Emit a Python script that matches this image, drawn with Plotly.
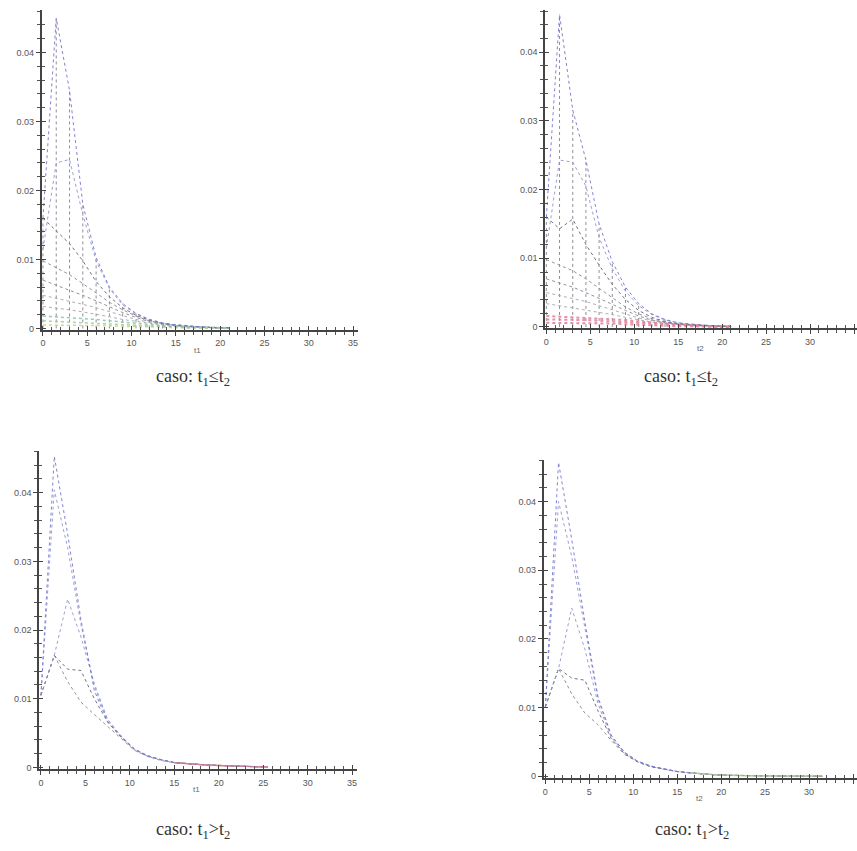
import plotly.graph_objects as go

# ---------------- data ----------------
t_top = [0, 1.5, 3, 4.5, 6, 7.5, 9, 10.5, 12, 13.5, 15, 16.5, 18, 19.5, 21]

tl_1 = [0.0160, 0.0450, 0.0345, 0.0180, 0.0103, 0.0060, 0.0036, 0.0022, 0.0013, 0.0008, 0.0005, 0.0003, 0.0002, 0.0001, 0.0001]
tl_2 = [0.0115, 0.0240, 0.0245, 0.0165, 0.0098, 0.0058, 0.0034, 0.0021, 0.0013, 0.0008, 0.0005, 0.0003, 0.0002, 0.0001, 0.0001]
tl_3 = [0.0160, 0.0142, 0.0123, 0.0098, 0.0068, 0.0046, 0.0030, 0.0019, 0.0012, 0.0007, 0.0005, 0.0003, 0.0002, 0.0001, 0.0001]
tl_4 = [0.0098, 0.0088, 0.0078, 0.0065, 0.0052, 0.0038, 0.0027, 0.0018, 0.0011, 0.0007, 0.0004, 0.0003, 0.0002, 0.0001, 0.0001]
tl_5 = [0.0070, 0.0063, 0.0056, 0.0048, 0.0040, 0.0031, 0.0023, 0.0016, 0.0010, 0.0006, 0.0004, 0.0003, 0.0002, 0.0001, 0.0001]
tl_6 = [0.0048, 0.0044, 0.0040, 0.0035, 0.0030, 0.0024, 0.0018, 0.0013, 0.0009, 0.0006, 0.0004, 0.0002, 0.0002, 0.0001, 0.0001]
tl_7 = [0.0032, 0.0030, 0.0027, 0.0024, 0.0021, 0.0017, 0.0013, 0.0010, 0.0007, 0.0005, 0.0003, 0.0002, 0.0001, 0.0001, 0.0000]
tl_8 = [0.0018, 0.0017, 0.0016, 0.0015, 0.0013, 0.0011, 0.0009, 0.0007, 0.0005, 0.0004, 0.0003, 0.0002, 0.0001, 0.0001, 0.0000]
tl_9 = [0.0011, 0.0010, 0.0010, 0.0009, 0.0008, 0.0007, 0.0006, 0.0005, 0.0004, 0.0003, 0.0002, 0.0001, 0.0001, 0.0000, 0.0000]
tl_10 = [0.0005, 0.0005, 0.0005, 0.0004, 0.0004, 0.0004, 0.0003, 0.0003, 0.0002, 0.0002, 0.0001, 0.0001, 0.0001, 0.0000, 0.0000]

tr_1 = [0.0160, 0.0455, 0.0316, 0.0243, 0.0150, 0.0095, 0.0058, 0.0034, 0.0019, 0.0011, 0.0006, 0.0004, 0.0002, 0.0001, 0.0001]
tr_2 = [0.0115, 0.0243, 0.0240, 0.0205, 0.0130, 0.0085, 0.0052, 0.0031, 0.0018, 0.0010, 0.0006, 0.0003, 0.0002, 0.0001, 0.0001]
tr_3 = [0.0160, 0.0143, 0.0157, 0.0120, 0.0090, 0.0062, 0.0040, 0.0024, 0.0014, 0.0008, 0.0005, 0.0003, 0.0002, 0.0001, 0.0001]
tr_4 = [0.0098, 0.0090, 0.0082, 0.0070, 0.0056, 0.0042, 0.0029, 0.0019, 0.0012, 0.0007, 0.0004, 0.0003, 0.0002, 0.0001, 0.0001]
tr_5 = [0.0070, 0.0064, 0.0058, 0.0050, 0.0042, 0.0033, 0.0024, 0.0016, 0.0010, 0.0006, 0.0004, 0.0003, 0.0002, 0.0001, 0.0001]
tr_6 = [0.0050, 0.0046, 0.0042, 0.0037, 0.0031, 0.0025, 0.0019, 0.0013, 0.0009, 0.0006, 0.0004, 0.0002, 0.0002, 0.0001, 0.0001]
tr_7 = [0.0034, 0.0031, 0.0028, 0.0025, 0.0022, 0.0018, 0.0014, 0.0010, 0.0007, 0.0005, 0.0003, 0.0002, 0.0001, 0.0001, 0.0000]
tr_8 = [0.0016, 0.0015, 0.0015, 0.0014, 0.0013, 0.0012, 0.0010, 0.0008, 0.0006, 0.0004, 0.0003, 0.0002, 0.0001, 0.0001, 0.0000]
tr_9 = [0.0011, 0.0011, 0.0010, 0.0010, 0.0009, 0.0008, 0.0007, 0.0006, 0.0004, 0.0003, 0.0002, 0.0001, 0.0001, 0.0000, 0.0000]
tr_10 = [0.0006, 0.0006, 0.0006, 0.0005, 0.0005, 0.0005, 0.0004, 0.0003, 0.0003, 0.0002, 0.0001, 0.0001, 0.0001, 0.0000, 0.0000]

t_bl = [0, 1.5, 3, 4.5, 6, 7.5, 9, 10.5, 12, 13.5, 15, 16.5, 18, 19.5, 21, 22.5, 24, 25.5]

bl_1 = [0.0105, 0.0453, 0.0340, 0.0215, 0.0112, 0.0066, 0.0045, 0.0027, 0.0017, 0.0011, 0.0007, 0.0005, 0.0004, 0.0003, 0.0002, 0.00015, 0.0001, 0.00006]
bl_2 = [0.0105, 0.0404, 0.0320, 0.0208, 0.0118, 0.0068, 0.0046, 0.0027, 0.0017, 0.0011, 0.0007, 0.0005, 0.0004, 0.0003, 0.0002, 0.00015, 0.0001, 0.00006]
bl_3 = [0.0105, 0.0163, 0.0245, 0.0190, 0.0122, 0.0070, 0.0046, 0.0026, 0.0017, 0.0011, 0.0007, 0.0005, 0.0004, 0.0003, 0.0002, 0.00015, 0.0001, 0.00006]
bl_4 = [0.0105, 0.0163, 0.0143, 0.0141, 0.0100, 0.0066, 0.0044, 0.0026, 0.0016, 0.0011, 0.0007, 0.0005, 0.0004, 0.0003, 0.0002, 0.00015, 0.0001, 0.00006]
bl_5 = [0.0105, 0.0163, 0.0125, 0.0095, 0.0077, 0.0060, 0.0042, 0.0025, 0.0016, 0.0010, 0.0007, 0.0005, 0.0004, 0.0003, 0.0002, 0.00015, 0.0001, 0.00006]

t_br = [0, 1.5, 3, 4.5, 6, 7.5, 9, 10.5, 12, 13.5, 15, 16.5, 18, 19.5, 21, 22.5, 24, 25.5, 27, 28.5, 30, 31.5]

br_1 = [0.0101, 0.0457, 0.0345, 0.0225, 0.0115, 0.0060, 0.0035, 0.0022, 0.0015, 0.0011, 0.0007, 0.0005, 0.0003, 0.0002, 0.00015, 0.0001, 0.00008, 0.00006, 0.00004, 0.00003, 0.00002, 0.00001]
br_2 = [0.0101, 0.0400, 0.0320, 0.0215, 0.0112, 0.0059, 0.0035, 0.0022, 0.0015, 0.0011, 0.0007, 0.0005, 0.0003, 0.0002, 0.00015, 0.0001, 0.00008, 0.00006, 0.00004, 0.00003, 0.00002, 0.00001]
br_3 = [0.0101, 0.0157, 0.0245, 0.0185, 0.0105, 0.0057, 0.0034, 0.0022, 0.0015, 0.0010, 0.0007, 0.0005, 0.0003, 0.0002, 0.00015, 0.0001, 0.00008, 0.00006, 0.00004, 0.00003, 0.00002, 0.00001]
br_4 = [0.0101, 0.0157, 0.0143, 0.0140, 0.0095, 0.0055, 0.0033, 0.0021, 0.0014, 0.0010, 0.0007, 0.0005, 0.0003, 0.0002, 0.00015, 0.0001, 0.00008, 0.00006, 0.00004, 0.00003, 0.00002, 0.00001]
br_5 = [0.0101, 0.0157, 0.0120, 0.0092, 0.0075, 0.0052, 0.0032, 0.0021, 0.0014, 0.0010, 0.0007, 0.0005, 0.0003, 0.0002, 0.00015, 0.0001, 0.00008, 0.00006, 0.00004, 0.00003, 0.00002, 0.00001]

y_ticks = [0, 0.01, 0.02, 0.03, 0.04]
y_labels = ["0", "0.01", "0.02", "0.03", "0.04"]
x_ticks = [0, 5, 10, 15, 20, 25, 30, 35]
x_labels = ["0", "5", "10", "15", "20", "25", "30", "35"]

captions = ["caso: t<sub>1</sub>\u2264t<sub>2</sub>", "caso: t<sub>1</sub>\u2264t<sub>2</sub>",
            "caso: t<sub>1</sub>&gt;t<sub>2</sub>", "caso: t<sub>1</sub>&gt;t<sub>2</sub>"]
axis_names = ["t1", "t2", "t1", "t2"]

# ---------------- figure ----------------
W, H = 857, 851
fig = go.Figure()

BLUE = "#7476d6"
BLUE2 = "#9496ce"
DARK = "#666672"
GRAY = "#88888f"
LGRAY = "#a6a6ae"
VERT = "#84848f"


def ax_names(k):
    return ("x" + ("" if k == 1 else str(k)), "y" + ("" if k == 1 else str(k)))


def add_line(x, y, color, k, width=1.0, dash="dot", opacity=0.9):
    xa, ya = ax_names(k)
    fig.add_trace(go.Scatter(x=x, y=y, mode="lines", showlegend=False, hoverinfo="skip",
                             line=dict(color=color, width=width, dash=dash), opacity=opacity,
                             xaxis=xa, yaxis=ya))


def add_verticals(t, top, color, k):
    xs, ys = [], []
    for xv, yv in zip(t, top):
        xs += [xv, xv, None]
        ys += [0, yv, None]
    add_line(xs, ys, color, k, width=1.0, dash="dot", opacity=0.9)


# panel 1 (top-left)
add_verticals(t_top, tl_1, VERT, 1)
for ys, c in [(tl_7, LGRAY), (tl_6, LGRAY), (tl_5, GRAY), (tl_4, GRAY), (tl_3, DARK), (tl_2, BLUE2), (tl_1, BLUE)]:
    add_line(t_top, ys, c, 1)
for ys, c in [(tl_10, "#d4d47c"), (tl_9, "#9cd29a"), (tl_8, "#8cc6aa")]:
    add_line(t_top, ys, c, 1, width=1.5)

# panel 2 (top-right)
add_verticals(t_top, tr_1, VERT, 2)
for ys, c in [(tr_7, LGRAY), (tr_6, LGRAY), (tr_5, GRAY), (tr_4, GRAY), (tr_3, DARK),
              (tr_2, BLUE2), (tr_1, BLUE)]:
    add_line(t_top, ys, c, 2)
for ys in [tr_8, tr_9, tr_10]:
    add_line(t_top, ys, "#e4849e", 2, width=2.0, dash="dot")

# panel 3 (bottom-left)
for ys, c in [(bl_5, GRAY), (bl_4, DARK), (bl_3, BLUE2), (bl_2, BLUE2), (bl_1, BLUE)]:
    add_line(t_bl, ys, c, 3)
    add_line(t_bl[10:], ys[10:], "#d8808c", 3, width=1.2, dash="solid", opacity=0.5)

# panel 4 (bottom-right)
for ys, c in [(br_5, GRAY), (br_4, DARK), (br_3, BLUE2), (br_2, BLUE2), (br_1, BLUE)]:
    add_line(t_br, ys, c, 4)
    add_line(t_br[11:], ys[11:], "#b6cf8a", 4, width=1.2, dash="solid", opacity=0.5)

# axes geometry (pixel anchors in the page)
panels = [
    dict(x0=42.0, xs=8.87, xr=[-0.15, 35.6], y0=330.0, ys=6930, yr=[-0.0002, 0.0461]),
    dict(x0=546.0, xs=8.80, xr=[-0.15, (857 - 546.0) / 8.80], y0=328.5, ys=6900, yr=[-0.0002, 0.0462]),
    dict(x0=40.0, xs=8.90, xr=[-0.2, 35.6], y0=771.0, ys=6900, yr=[-0.0003, 0.0461]),
    dict(x0=545.0, xs=8.80, xr=[-0.2, (857 - 545.0) / 8.80], y0=780.0, ys=6900, yr=[-0.0003, 0.0461]),
]

layout = dict(width=W, height=H, margin=dict(l=0, r=0, t=0, b=0),
              paper_bgcolor="white", plot_bgcolor="white", showlegend=False)
annotations = []
tickfont = dict(family="Liberation Sans", size=9, color="#555")
for i, p in enumerate(panels):
    k = i + 1
    xl = p["x0"] + p["xr"][0] * p["xs"]
    xr = p["x0"] + p["xr"][1] * p["xs"]
    yb = p["y0"] - p["yr"][0] * p["ys"]
    yt = p["y0"] - p["yr"][1] * p["ys"]
    xd = [max(0, xl / W), min(1, xr / W)]
    yd = [1 - yb / H, 1 - yt / H]
    sfx = "" if k == 1 else str(k)
    layout["xaxis" + sfx] = dict(domain=xd, range=p["xr"], anchor="y" + sfx, showgrid=False, zeroline=False,
                                 showline=True, linecolor="#444", linewidth=1.5,
                                 ticks="outside", ticklen=4, tickcolor="#444", tickwidth=1,
                                 tickvals=x_ticks, ticktext=x_labels, tickfont=tickfont,
                                 minor=dict(ticks="outside", ticklen=3, dtick=1, tickcolor="#555", showgrid=False))
    layout["yaxis" + sfx] = dict(domain=yd, range=p["yr"], anchor="x" + sfx, showgrid=False, zeroline=False,
                                 showline=True, linecolor="#444", linewidth=1.5,
                                 ticks="outside", ticklen=4, tickcolor="#444", tickwidth=1,
                                 tickvals=y_ticks, ticktext=y_labels, tickfont=tickfont,
                                 minor=dict(ticks="outside", ticklen=3, dtick=0.002, tickcolor="#555", showgrid=False))
    ok = k + 4
    layout["xaxis" + str(ok)] = dict(overlaying="x" + sfx, range=p["xr"], anchor="y" + str(ok), side="bottom",
                                     showgrid=False, zeroline=False, showline=False, showticklabels=False,
                                     ticks="inside", ticklen=4, tickcolor="#444", tickwidth=1, tickvals=x_ticks,
                                     minor=dict(ticks="inside", ticklen=3, dtick=1, tickcolor="#555", showgrid=False))
    layout["yaxis" + str(ok)] = dict(overlaying="y" + sfx, range=p["yr"], anchor="x" + str(ok), side="left",
                                     showgrid=False, zeroline=False, showline=False, showticklabels=False,
                                     ticks="inside", ticklen=4, tickcolor="#444", tickwidth=1, tickvals=y_ticks,
                                     minor=dict(ticks="inside", ticklen=3, dtick=0.002, tickcolor="#555", showgrid=False))
    fig.add_trace(go.Scatter(x=[None], y=[None], mode="lines", showlegend=False, hoverinfo="skip",
                             xaxis="x" + str(ok), yaxis="y" + str(ok)))
    annotations.append(dict(x=17.5, y=1 - (p["y0"] + 22) / H, xref="x" + sfx, yref="paper", yanchor="middle",
                            text=axis_names[i], showarrow=False,
                            font=dict(family="Liberation Sans", size=8, color="#666")))

cap_pos = [(192, 379), (681, 379), (192, 834), (692, 834)]
for (cx, cy), txt in zip(cap_pos, captions):
    annotations.append(dict(x=cx / W, y=1 - cy / H, xref="paper", yref="paper", xanchor="center", yanchor="middle",
                            text=txt, showarrow=False,
                            font=dict(family="Times New Roman, Liberation Serif, DejaVu Serif, serif",
                                      size=18, color="#333")))
layout["annotations"] = annotations
fig.update_layout(**layout)
fig.write_html("out.html", config={"displayModeBar": False},
               post_script="document.body.style.margin='0';document.body.style.overflow='hidden';")
